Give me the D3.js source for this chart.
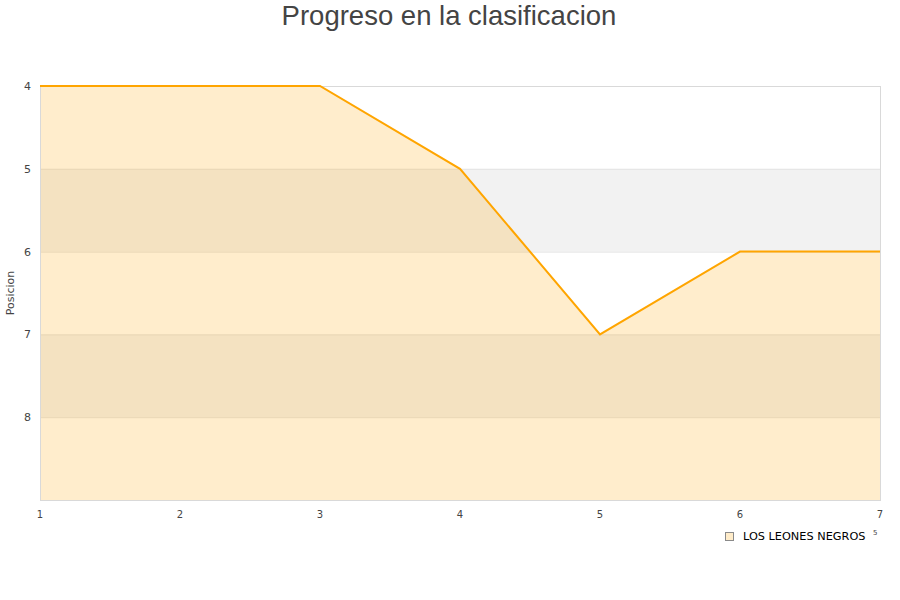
<!DOCTYPE html>
<html><head><meta charset="utf-8">
<script src="https://cdn.jsdelivr.net/npm/d3@7"></script>
<style>body{margin:0;background:#fff}svg{display:block}</style>
</head><body>
<svg id="c" width="900" height="600"></svg>
<script>
const title = "Progreso en la clasificacion";
const yTitle = "Posicion";
const seriesName = "LOS LEONES NEGROS";
const rounds = [1, 2, 3, 4, 5, 6, 7];
const positions = [4, 4, 4, 5, 7, 6, 6];
const yTicks = [4, 5, 6, 7, 8];
const bands = [[5, 6], [7, 8]];

const svg = d3.select("#c");
const m = {l: 40, r: 880, t: 86, b: 500};
const x = d3.scaleLinear().domain([1, 7]).range([m.l, m.r]);
const y = d3.scaleLinear().domain([4, 9]).range([m.t, m.b]);

svg.append("text").attr("x", 449).attr("y", 25).attr("text-anchor", "middle")
  .attr("font-family", "Liberation Sans, Arial, sans-serif").attr("font-size", 27.5)
  .attr("fill", "#444").text(title);

const g = svg.append("g");
g.selectAll(".band").data(bands).join("rect")
  .attr("x", m.l).attr("width", m.r - m.l)
  .attr("y", d => y(d[0])).attr("height", d => y(d[1]) - y(d[0]))
  .attr("fill", "#f2f2f2");

g.selectAll(".grid").data(yTicks).join("line")
  .attr("x1", m.l).attr("x2", m.r).attr("y1", d => y(d) + 0.5).attr("y2", d => y(d) + 0.5)
  .attr("stroke", "#e3e3e3").attr("stroke-width", 1);

const pts = rounds.map((r, i) => [r, positions[i]]);
g.append("path").datum(pts)
  .attr("d", d3.area().x(d => x(d[0])).y0(y(9)).y1(d => y(d[1])))
  .attr("fill", "rgba(255,165,0,0.2)");

g.append("rect").attr("x", m.l + 0.5).attr("y", m.t + 0.5).attr("width", m.r - m.l)
  .attr("height", m.b - m.t).attr("fill", "none").attr("stroke", "#d9d9d9");

g.append("path").datum(pts)
  .attr("d", d3.line().x(d => x(d[0])).y(d => y(d[1])))
  .attr("fill", "none").attr("stroke", "#ffa500").attr("stroke-width", 2);

const font = "DejaVu Sans, Verdana, sans-serif";
g.selectAll(".yt").data(yTicks).join("text")
  .attr("x", 31).attr("y", d => y(d) + 4).attr("text-anchor", "end")
  .attr("font-family", font).attr("font-size", 11).attr("fill", "#444").text(d => d);
g.selectAll(".xt").data(rounds).join("text")
  .attr("x", d => x(d)).attr("y", 518).attr("text-anchor", "middle")
  .attr("font-family", font).attr("font-size", 10).attr("fill", "#444").text(d => d);

svg.append("text").attr("transform", "translate(14,293) rotate(-90)")
  .attr("text-anchor", "middle").attr("font-family", font).attr("font-size", 11)
  .attr("fill", "#444").text(yTitle);

svg.append("rect").attr("x", 725.5).attr("y", 532.5).attr("width", 8).attr("height", 8)
  .attr("fill", "#ffecc9").attr("stroke", "#8a8a8a");
svg.append("text").attr("x", 743).attr("y", 540).attr("font-family", font)
  .attr("font-size", 11.3).attr("fill", "#000").text(seriesName);
svg.append("text").attr("x", 873).attr("y", 535).attr("font-family", font)
  .attr("font-size", 7).attr("fill", "#444").text("5");
</script>
</body></html>
